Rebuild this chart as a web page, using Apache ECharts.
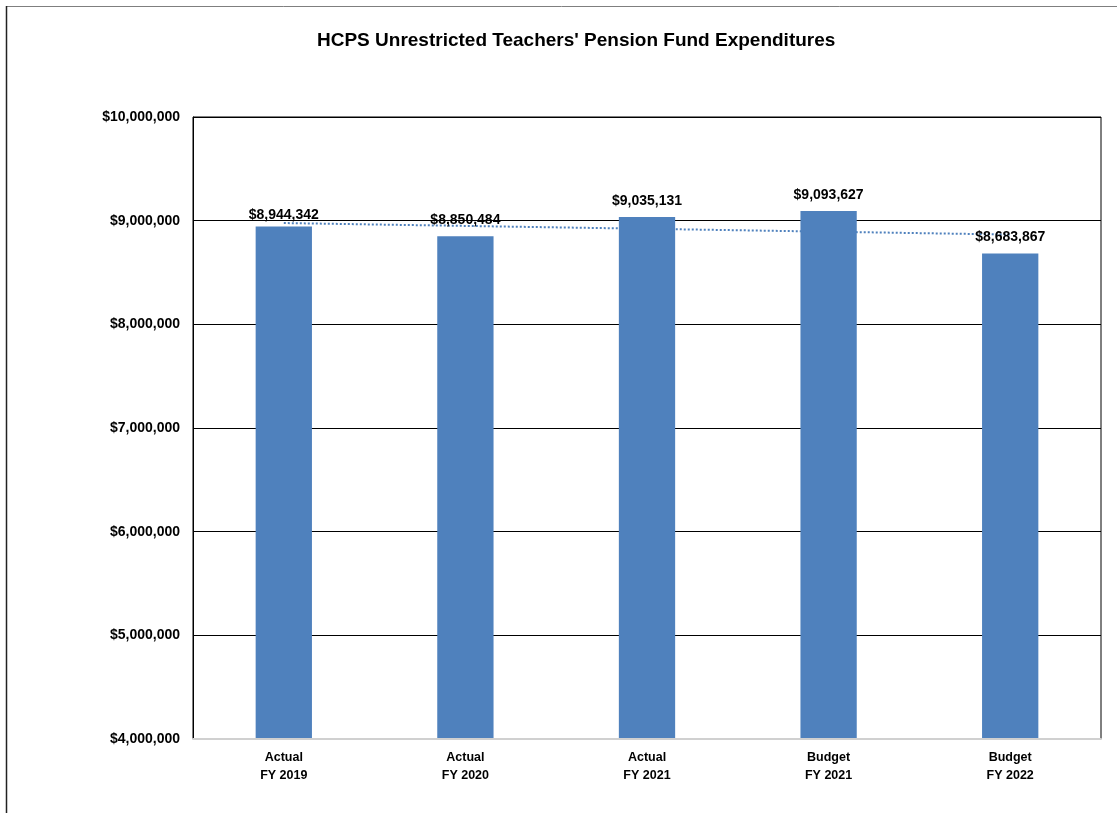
<!DOCTYPE html>
<html>
<head>
<meta charset="utf-8">
<script src="https://cdn.jsdelivr.net/npm/echarts@6/dist/echarts.min.js"></script>
<style>
  html, body { margin: 0; padding: 0; background: #fff; }
  #chart { width: 1117px; height: 813px; }
</style>
</head>
<body>
<div id="chart"></div>
<script>
// Fund expenditures by fiscal year
const categories = ['Actual\nFY 2019', 'Actual\nFY 2020', 'Actual\nFY 2021', 'Budget\nFY 2021', 'Budget\nFY 2022'];
const expenditures = [8944342, 8850484, 9035131, 9093627, 8683867];
const yTicks = { min: 4000000, max: 10000000, interval: 1000000 };

// Linear least-squares trendline through the yearly values
function linearTrend(values) {
  const n = values.length;
  const xs = values.map((_, i) => i + 1);
  const mx = xs.reduce((a, b) => a + b, 0) / n;
  const my = values.reduce((a, b) => a + b, 0) / n;
  let num = 0, den = 0;
  for (let i = 0; i < n; i++) {
    num += (xs[i] - mx) * (values[i] - my);
    den += (xs[i] - mx) * (xs[i] - mx);
  }
  const slope = num / den;
  return xs.map(x => my + slope * (x - mx));
}
const trend = linearTrend(expenditures);

const money = v => '$' + Math.round(v).toLocaleString('en-US');
const FONT = '"Liberation Sans", Arial, sans-serif';
const BLUE = '#4F81BD';

const chart = echarts.init(document.getElementById('chart'), null, { renderer: 'canvas' });
chart.setOption({
  backgroundColor: '#fff',
  animation: false,
  title: {
    text: "HCPS Unrestricted Teachers' Pension Fund Expenditures",
    left: 312,
    top: 26,
    textStyle: { fontFamily: FONT, fontSize: 19, fontWeight: 'bold', color: '#000' }
  },
  graphic: [
    { type: 'line', shape: { x1: 6, y1: 6.5, x2: 1117, y2: 6.5 }, style: { stroke: '#7f7f7f', lineWidth: 1 }, silent: true },
    { type: 'line', shape: { x1: 6.5, y1: 6, x2: 6.5, y2: 813 }, style: { stroke: '#222', lineWidth: 1.5 }, silent: true }
  ],
  grid: {
    left: 193, right: 16, top: 117, bottom: 74,
    show: true, borderColor: '#000', borderWidth: 1, backgroundColor: 'transparent'
  },
  xAxis: {
    type: 'category',
    data: categories,
    axisLine: { show: true, lineStyle: { color: '#d0d0d0', width: 2 } },
    axisTick: { show: false },
    axisLabel: {
      margin: 10,
      fontFamily: FONT, fontSize: 12.5, fontWeight: 'bold', color: '#000', lineHeight: 18
    },
    z: 5
  },
  yAxis: {
    type: 'value',
    min: yTicks.min, max: yTicks.max, interval: yTicks.interval,
    axisLine: { show: true, lineStyle: { color: '#000', width: 1 } },
    axisTick: { show: false },
    splitLine: { show: true, lineStyle: { color: '#000', width: 1 } },
    axisLabel: {
      margin: 13,
      formatter: money,
      fontFamily: FONT, fontSize: 14, fontWeight: 'bold', color: '#000'
    }
  },
  series: [
    {
      name: 'Linear trend',
      type: 'line',
      data: trend,
      symbol: 'none',
      silent: true,
      z: 1,
      lineStyle: { color: BLUE, width: 2, type: [2, 2] }
    },
    {
      name: 'Expenditures',
      type: 'bar',
      z: 3,
      barWidth: '31%',
      itemStyle: { color: BLUE },
      data: expenditures.map((v, i) => i === 0 ? { value: v, label: { distance: 4 } } : v),
      label: {
        show: true,
        position: 'top',
        distance: 9,
        formatter: p => money(p.value),
        fontFamily: FONT, fontSize: 14, fontWeight: 'bold', color: '#000'
      }
    }
  ]
});
</script>
</body>
</html>
